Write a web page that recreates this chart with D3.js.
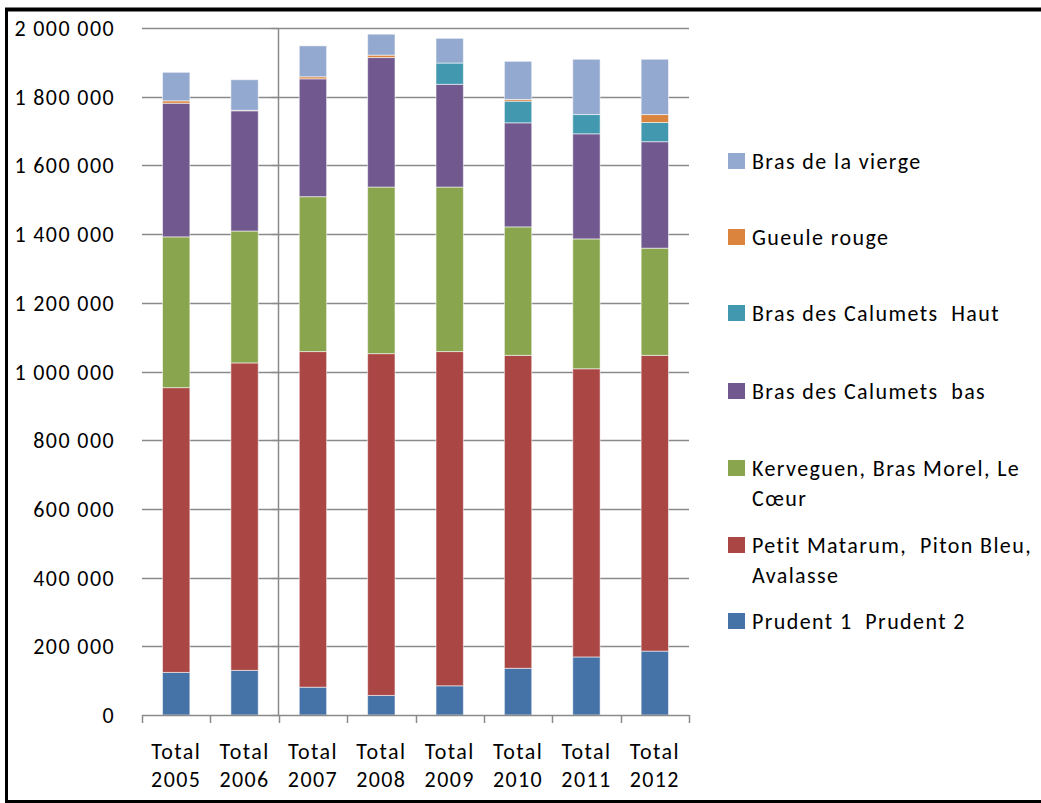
<!DOCTYPE html>
<html>
<head>
<meta charset="utf-8">
<script src="https://cdn.jsdelivr.net/npm/d3@7/dist/d3.min.js"></script>
<style>
  html, body { margin: 0; padding: 0; background: #fff; }
  svg { display: block; }
  text { font-family: Carlito, Calibri, "Liberation Sans", Arial, sans-serif; fill: #000; white-space: pre; letter-spacing: 1.4px; }
</style>
</head>
<body>
<svg id="chart" width="1041" height="803"></svg>
<script>
// Categories (x axis, two-line labels)
const categories = ["Total 2005", "Total 2006", "Total 2007", "Total 2008",
                    "Total 2009", "Total 2010", "Total 2011", "Total 2012"];

// Stacked series, bottom to top
const prudent   = [124000, 130000,  81000,  57000,  85000, 136000, 169000, 186000];
const matarum   = [829000, 895000, 977000, 995000, 973000, 911000, 839000, 861000];
const kerveguen = [439000, 384000, 451000, 485000, 479000, 374000, 378000, 312000];
const calBas    = [389000, 350000, 343000, 377000, 299000, 303000, 306000, 310000];
const calHaut   = [     0,      0,      0,      0,  62000,  63000,  56000,  56000];
const gueule    = [  7000,   1500,   6000,   7000,      0,   5000,      0,  23000];
const vierge    = [ 83000,  89000,  90000,  61000,  72000, 111000, 161000, 161000];

const seriesNames = [
  "Prudent 1  Prudent 2",
  "Petit Matarum,  Piton Bleu, Avalasse",
  "Kerveguen, Bras Morel, Le Cœur",
  "Bras des Calumets  bas",
  "Bras des Calumets  Haut",
  "Gueule rouge",
  "Bras de la vierge"
];
const seriesValues = [prudent, matarum, kerveguen, calBas, calHaut, gueule, vierge];
const seriesColors = ["#4572A7", "#AA4643", "#89A54E", "#71588F", "#4198AF", "#DB843D", "#93A9CF"];

// Legend rows, top to bottom, with wrapped lines
const legendLines = [
  ["Bras de la vierge"],
  ["Gueule rouge"],
  ["Bras des Calumets  Haut"],
  ["Bras des Calumets  bas"],
  ["Kerveguen, Bras Morel, Le", "Cœur"],
  ["Petit Matarum,  Piton Bleu,", "Avalasse"],
  ["Prudent 1  Prudent 2"]
];

const yTicks = [0, 200000, 400000, 600000, 800000, 1000000, 1200000, 1400000, 1600000, 1800000, 2000000];

const svg = d3.select("#chart");
const plot = { left: 142, right: 689, top: 28, bottom: 715 };

const x = d3.scaleBand().domain(categories).range([plot.left, plot.right]).paddingInner(0.6).paddingOuter(0.3);
const xBounds = d3.scaleLinear().domain([0, categories.length]).range([plot.left, plot.right]);
const y = d3.scaleLinear().domain([0, 2000000]).range([plot.bottom, plot.top]);

const fmt = v => d3.format(",")(v).replace(/,/g, " ");

// Horizontal gridlines
svg.append("g").selectAll("line").data(yTicks.filter(t => t > 0)).join("line")
  .attr("x1", plot.left).attr("x2", plot.right)
  .attr("y1", d => Math.round(y(d)) + 0.5).attr("y2", d => Math.round(y(d)) + 0.5)
  .attr("stroke", "#8a8a8a").attr("stroke-width", 1.3);

// Stacked bars
const table = categories.map((c, i) => {
  const row = { cat: c };
  seriesValues.forEach((s, k) => row["s" + k] = s[i]);
  return row;
});
const stack = d3.stack().keys(seriesValues.map((s, k) => "s" + k))(table);

svg.append("g").selectAll("g").data(stack).join("g")
  .attr("fill", (d, k) => seriesColors[k])
  .selectAll("rect").data(d => d).join("rect")
  .attr("x", d => x(d.data.cat))
  .attr("width", x.bandwidth())
  .attr("y", d => y(d[1]))
  .attr("height", d => Math.max(0, y(d[0]) - y(d[1])))
  .attr("stroke", "rgba(255,255,255,0.55)")
  .attr("stroke-width", 1);

// Value axis crossing between the 2nd and 3rd categories
const axisX = Math.round(xBounds(2)) - 0.5;
svg.append("line")
  .attr("x1", axisX).attr("x2", axisX)
  .attr("y1", plot.top).attr("y2", plot.bottom)
  .attr("stroke", "#8a8a8a").attr("stroke-width", 1.5);
svg.append("g").selectAll("line").data(yTicks).join("line")
  .attr("x1", axisX - 7).attr("x2", axisX)
  .attr("y1", d => Math.round(y(d)) + 0.5).attr("y2", d => Math.round(y(d)) + 0.5)
  .attr("stroke", "#8a8a8a").attr("stroke-width", 1.3);

// Category axis line and tick marks at band boundaries
svg.append("line")
  .attr("x1", plot.left).attr("x2", plot.right)
  .attr("y1", plot.bottom + 0.5).attr("y2", plot.bottom + 0.5)
  .attr("stroke", "#8a8a8a").attr("stroke-width", 1.5);
svg.append("g").selectAll("line").data(d3.range(categories.length + 1)).join("line")
  .attr("x1", d => Math.round(xBounds(d)) + 0.5).attr("x2", d => Math.round(xBounds(d)) + 0.5)
  .attr("y1", plot.bottom).attr("y2", plot.bottom + 8)
  .attr("stroke", "#8a8a8a").attr("stroke-width", 1.5);

// Value labels
svg.append("g").selectAll("text").data(yTicks).join("text")
  .attr("x", 115)
  .attr("y", d => y(d) + 8)
  .attr("text-anchor", "end")
  .attr("font-size", 22)
  .text(fmt);

// Category labels
const xl = svg.append("g").selectAll("text").data(categories).join("text")
  .attr("text-anchor", "middle")
  .attr("font-size", 22);
xl.append("tspan")
  .attr("x", d => x(d) + x.bandwidth() / 2).attr("y", 759)
  .text(d => d.split(" ")[0]);
xl.append("tspan")
  .attr("x", d => x(d) + x.bandwidth() / 2).attr("y", 787)
  .text(d => d.split(" ")[1]);

// Legend
const legendColors = seriesColors.slice().reverse();
const legendCenters = [161, 237, 313, 391, 468, 545, 621];
const lg = svg.append("g").selectAll("g").data(legendLines).join("g")
  .attr("transform", (d, i) => `translate(728, ${legendCenters[i]})`);
lg.append("rect")
  .attr("x", 0).attr("y", -8).attr("width", 17).attr("height", 16)
  .attr("fill", (d, i) => legendColors[i]);
lg.each(function(lines) {
  d3.select(this).selectAll("text").data(lines).join("text")
    .attr("x", 24)
    .attr("y", (t, j) => 8 + j * 30)
    .attr("font-size", 22)
    .text(t => t);
});

// Chart frame (left, top and bottom edges)
svg.append("line").attr("x1", 6.5).attr("x2", 6.5).attr("y1", 8).attr("y2", 803)
  .attr("stroke", "#000").attr("stroke-width", 3);
svg.append("line").attr("x1", 5).attr("x2", 1041).attr("y1", 9.5).attr("y2", 9.5)
  .attr("stroke", "#000").attr("stroke-width", 4);
svg.append("line").attr("x1", 5).attr("x2", 1041).attr("y1", 801.5).attr("y2", 801.5)
  .attr("stroke", "#000").attr("stroke-width", 3);
</script>
</body>
</html>
